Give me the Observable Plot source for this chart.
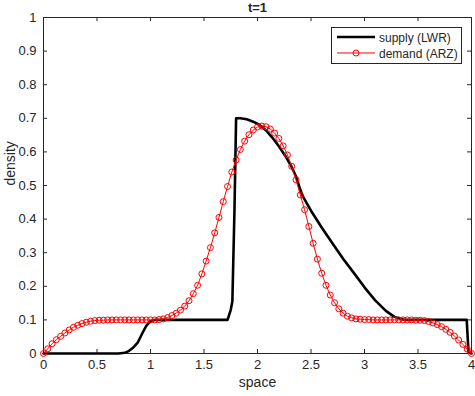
<!DOCTYPE html>
<html>
<head>
<meta charset="utf-8">
<script src="https://cdn.jsdelivr.net/npm/d3@7"></script>
<script src="https://cdn.jsdelivr.net/npm/@observablehq/plot@0.6"></script>
<style>
  html, body { margin: 0; padding: 0; background: #fff; }
  #wrap { position: relative; width: 475px; height: 396px; font-family: "Liberation Sans", Arial, Helvetica, sans-serif; }
  #legend { position: absolute; left: 0; top: 0; pointer-events: none; }
</style>
</head>
<body>
<div id="wrap"></div>
<script>
// ---- data ----
const title = "t=1";
const xLabel = "space";
const yLabel = "density";
const seriesNames = ["supply (LWR)", "demand (ARZ)"];
const xTicks = [0, 0.5, 1, 1.5, 2, 2.5, 3, 3.5, 4];
const yTicks = [0, 0.1, 0.2, 0.3, 0.4, 0.5, 0.6, 0.7, 0.8, 0.9, 1];

// supply (LWR): x positions and densities
const supplyX = [0, 0.70, 0.76, 0.80, 0.84, 0.88, 0.92, 0.96, 1.00, 1.04, 1.72, 1.75, 1.765, 1.785, 1.80, 1.84, 1.90, 1.96, 2.02, 2.08, 2.14, 2.20, 2.26, 2.32, 2.36, 2.39, 2.42, 2.50, 2.60, 2.70, 2.80, 2.90, 3.00, 3.10, 3.20, 3.28, 3.36, 3.40, 3.955, 3.972, 4.00];
const supplyY = [0, 0, 0.002, 0.008, 0.018, 0.032, 0.058, 0.082, 0.096, 0.100, 0.100, 0.130, 0.155, 0.430, 0.700, 0.700, 0.697, 0.690, 0.680, 0.664, 0.642, 0.617, 0.588, 0.555, 0.527, 0.497, 0.470, 0.425, 0.375, 0.328, 0.282, 0.240, 0.197, 0.158, 0.127, 0.109, 0.101, 0.100, 0.100, 0.005, 0];

// demand (ARZ): grid step 0.04 from 0 to 4, densities
const demandStep = 0.04;
const demandY = [
  0, 0.014, 0.029, 0.041, 0.051, 0.061, 0.070, 0.078, 0.084, 0.089,
  0.093, 0.096, 0.098, 0.099, 0.099, 0.100, 0.100, 0.100, 0.100, 0.100,
  0.100, 0.100, 0.100, 0.100, 0.100, 0.100, 0.100, 0.101, 0.103, 0.107,
  0.113, 0.120, 0.129, 0.141, 0.157, 0.178, 0.203, 0.237, 0.275, 0.315,
  0.359, 0.405, 0.452, 0.497, 0.540, 0.576, 0.607, 0.632, 0.651, 0.665,
  0.674, 0.677, 0.675, 0.668, 0.656, 0.640, 0.618, 0.591, 0.557, 0.517,
  0.472, 0.428, 0.378, 0.328, 0.281, 0.239, 0.203, 0.174, 0.151, 0.133,
  0.120, 0.111, 0.106, 0.103, 0.102, 0.101, 0.101, 0.100, 0.100, 0.100,
  0.100, 0.100, 0.100, 0.100, 0.100, 0.100, 0.100, 0.099, 0.099, 0.098,
  0.095, 0.091, 0.086, 0.080, 0.072, 0.063, 0.052, 0.040, 0.027, 0.013,
  0
];

// ---- tables ----
const supply = supplyX.map((x, i) => ({x, y: supplyY[i]}));
const demand = demandY.map((y, i) => ({x: +(i * demandStep).toFixed(2), y}));

const W = 475, H = 396;
const mL = 43, mR = 4, mT = 17, mB = 43;
const fw = W - mL - mR, fh = H - mT - mB;
const ink = "#262626";
const tickLen = 4;

const chart = Plot.plot({
  width: W, height: H,
  marginLeft: mL, marginRight: mR, marginTop: mT, marginBottom: mB,
  style: {fontFamily: '"Liberation Sans", Arial, Helvetica, sans-serif', fontSize: "13px", color: ink, background: "white", overflow: "visible"},
  x: {domain: [0, 4]},
  y: {domain: [0, 1]},
  marks: [
    Plot.frame({stroke: ink, strokeWidth: 1}),
    Plot.axisX({ticks: xTicks, tickSize: 0, tickPadding: 6, label: null, tickFormat: d => String(d), fill: ink}),
    Plot.axisY({ticks: yTicks, tickSize: 0, tickPadding: 7, label: null, tickFormat: d => String(d), fill: ink}),
    Plot.tickX(xTicks.slice(1, -1), {x: d => d, insetTop: fh - tickLen, stroke: ink}),
    Plot.tickX(xTicks.slice(1, -1), {x: d => d, insetBottom: fh - tickLen, stroke: ink}),
    Plot.tickY(yTicks.slice(1, -1), {y: d => d, insetRight: fw - tickLen, stroke: ink}),
    Plot.tickY(yTicks.slice(1, -1), {y: d => d, insetLeft: fw - tickLen, stroke: ink}),
    Plot.line(supply, {x: "x", y: "y", stroke: "black", strokeWidth: 2.6, strokeLinejoin: "round"}),
    Plot.line(demand, {x: "x", y: "y", stroke: "red", strokeWidth: 1}),
    Plot.dot(demand, {x: "x", y: "y", r: 3, stroke: "red", fill: "none", strokeWidth: 1}),
    Plot.text([title], {frameAnchor: "top", lineAnchor: "middle", dy: -10, fontWeight: "bold", fontSize: 13, fill: ink}),
    Plot.text([xLabel], {frameAnchor: "bottom", dy: 33, fontSize: 14, fill: ink}),
    Plot.text([yLabel], {frameAnchor: "left", dx: -33, rotate: -90, fontSize: 14, fill: ink})
  ]
});

const wrap = document.getElementById("wrap");
wrap.appendChild(chart);

// legend overlay (northeast)
const ns = "http://www.w3.org/2000/svg";
const lg = document.createElementNS(ns, "svg");
lg.setAttribute("id", "legend");
lg.setAttribute("width", W);
lg.setAttribute("height", H);
const box = {x: 331.5, y: 27.5, w: 130, h: 36};
lg.innerHTML = `
  <rect x="${box.x}" y="${box.y}" width="${box.w}" height="${box.h}" fill="white" stroke="${ink}" stroke-width="1"/>
  <line x1="337" x2="375" y1="37" y2="37" stroke="black" stroke-width="2.6"/>
  <text x="379" y="41.5" font-size="12" fill="${ink}" font-family="Liberation Sans, Arial, sans-serif">${seriesNames[0]}</text>
  <line x1="337" x2="375" y1="53" y2="53" stroke="red" stroke-width="1"/>
  <circle cx="356" cy="53" r="3" fill="none" stroke="red" stroke-width="1"/>
  <text x="379" y="57.5" font-size="12" fill="${ink}" font-family="Liberation Sans, Arial, sans-serif">${seriesNames[1]}</text>
`;
wrap.appendChild(lg);
</script>
</body>
</html>
